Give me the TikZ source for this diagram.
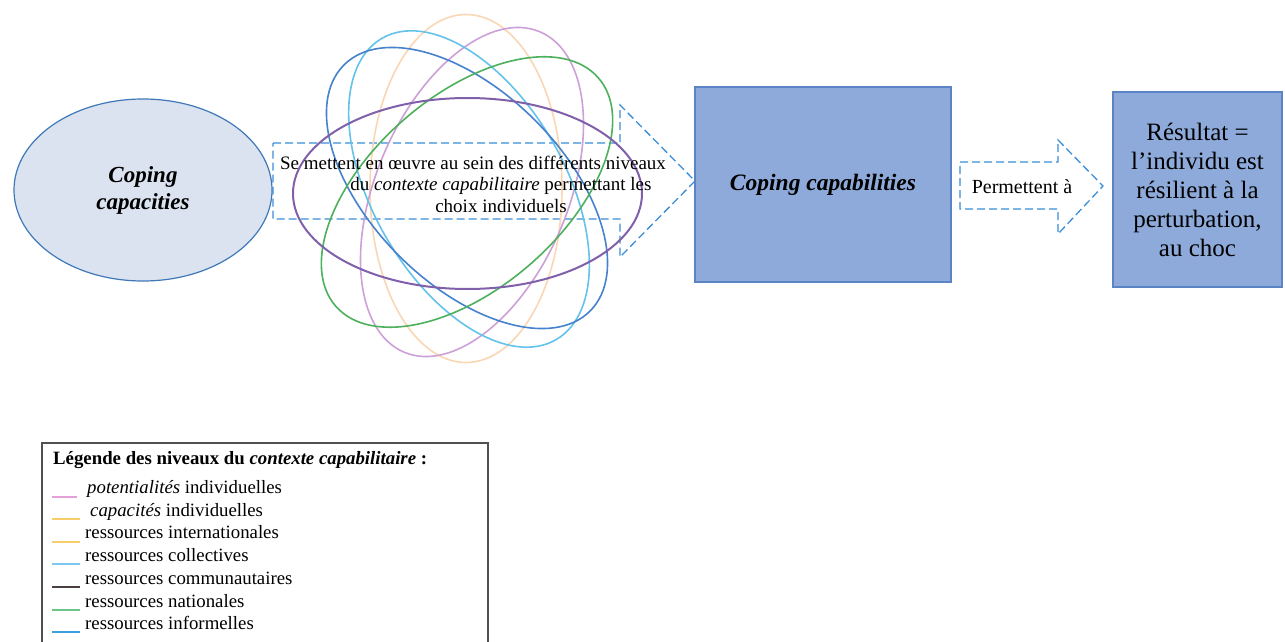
\documentclass[tikz,border=0pt]{standalone}
\usepackage{fontspec}
\setmainfont{Liberation Serif}
\usetikzlibrary{shapes.geometric}
\definecolor{capfill}{HTML}{DBE3F0}
\definecolor{capline}{HTML}{3E78B8}
\definecolor{boxfill}{HTML}{8EAADB}
\definecolor{boxline}{HTML}{5B84C4}
\definecolor{dashblue}{HTML}{3A8ED8}
\definecolor{elpurple}{HTML}{8060AA}
\definecolor{elgreen}{HTML}{4CB05C}
\definecolor{elblue}{HTML}{4682CD}
\definecolor{elcyan}{HTML}{64C3EB}
\definecolor{elpink}{HTML}{CDA0D7}
\definecolor{elorange}{HTML}{FAD7B4}
\definecolor{lgpink}{HTML}{E6A0D8}
\definecolor{lgorange}{HTML}{F6CF6A}
\definecolor{lgcyan}{HTML}{7CC8F0}
\definecolor{lgdark}{HTML}{4A4040}
\definecolor{lggreen}{HTML}{6CC68A}
\definecolor{lgblue}{HTML}{3CA0E0}
\definecolor{lgframe}{HTML}{505050}
\tikzset{
  capell/.style={ellipse, draw=capline, fill=capfill, line width=1.2pt, minimum width=258pt, minimum height=182pt, inner sep=0pt, align=center, font=\fontsize{23}{27}\selectfont\bfseries\itshape},
  bluebox/.style={draw=boxline, fill=boxfill, line width=1.2pt, inner sep=0pt, align=center},
  blockarrow/.style={draw=dashblue, line width=1.3pt, dash pattern=on 8pt off 4pt, line join=miter},
  cloud/.style={line width=1.6pt},
  legline/.style={line width=1.1pt},
  legtext/.style={anchor=base west, inner sep=0pt, font=\fontsize{18.8}{22}\selectfont},
}
\begin{document}
\begin{tikzpicture}[x=1pt,y=-1pt]
\useasboundingbox (0,0) rectangle (1285,642);
\clip (0,0) rectangle (1285,642);
\fill[white] (0,0) rectangle (1285,642);

% Coping capacities
\node[capell] (cap) at (143,190) {Coping\\capacities};

% first block arrow
\coordinate (a1) at (273,143);
\coordinate (a2) at (620,143);
\coordinate (a3) at (620,105);
\coordinate (a4) at (695,181);
\coordinate (a5) at (620,257);
\coordinate (a6) at (620,219);
\coordinate (a7) at (273,219);
\draw[blockarrow] (a1) -- (a2) -- (a3) -- (a4) -- (a5) -- (a6) -- (a7) -- cycle;

% overlapping ellipses
\coordinate (eo) at (466,188.5);
\coordinate (ep) at (472,192);
\coordinate (ecy) at (469,189);
\coordinate (eb) at (467,188);
\coordinate (eg) at (467,192);
\coordinate (eu) at (467.5,193.5);
\draw[cloud, elorange, rotate around={90:(eo)}] (eo) ellipse [x radius=174, y radius=96];
\draw[cloud, elpink, rotate around={67:(ep)}] (ep) ellipse [x radius=174, y radius=96];
\draw[cloud, elcyan, rotate around={-60:(ecy)}] (ecy) ellipse [x radius=174, y radius=96];
\draw[cloud, elblue, rotate around={-45:(eb)}] (eb) ellipse [x radius=174, y radius=96];
\draw[cloud, elgreen, rotate around={41:(eg)}] (eg) ellipse [x radius=174, y radius=96];
\draw[cloud, elpurple, line width=2pt] (eu) ellipse [x radius=174.5, y radius=95.5];

\node[align=center, inner sep=0pt, font=\fontsize{19}{21.5}\selectfont] (t1) at (501,184)
  {Se mettent en œuvre au sein des différents niveaux\hspace*{56pt}\\du \textit{contexte capabilitaire} permettant les\\choix individuels};

% Coping capabilities box
\node[bluebox, minimum width=256pt, minimum height=195pt, font=\fontsize{23.5}{27}\selectfont\bfseries\itshape] (capab) at (823,184.5) {Coping capabilities};

% second block arrow
\coordinate (b1) at (960,162);
\coordinate (b2) at (1058,162);
\coordinate (b3) at (1058,140);
\coordinate (b4) at (1103,186);
\coordinate (b5) at (1058,234);
\coordinate (b6) at (1058,209);
\coordinate (b7) at (960,209);
\draw[blockarrow, fill=white] (b1) -- (b2) -- (b3) -- (b4) -- (b5) -- (b6) -- (b7) -- cycle;
\node[inner sep=0pt, font=\fontsize{20}{22}\selectfont] (perm) at (1022,187) {Permettent à};

% result box
\node[bluebox, minimum width=169pt, minimum height=195pt, font=\fontsize{25}{29}\selectfont] (res) at (1197.5,189.5)
  {Résultat =\\l’individu est\\résilient à la\\perturbation,\\au choc};

% legend
\draw[lgframe, line width=1.5pt] (42,443) rectangle (488,670);
\node[legtext, font=\fontsize{18.8}{22}\selectfont\bfseries] (lt) at (53,464) {Légende des niveaux du \textit{contexte capabilitaire} :};
\draw[legline, lgpink] (52,497) -- (77,497);
\node[legtext] (l1) at (87,493) {\textit{potentialités} individuelles};
\draw[legline, lgorange] (52,519) -- (80,519);
\node[legtext] (l2) at (90,516) {\textit{capacités} individuelles};
\draw[legline, lgorange] (52,542) -- (80,542);
\node[legtext] (l3) at (85,538) {ressources internationales};
\draw[legline, lgcyan] (52,564) -- (80,564);
\node[legtext] (l4) at (85,561) {ressources collectives};
\draw[legline, lgdark] (52,587) -- (80,587);
\node[legtext] (l5) at (85,584) {ressources communautaires};
\draw[legline, lggreen] (52,610) -- (80,610);
\node[legtext] (l6) at (85,607) {ressources nationales};
\draw[legline, lgblue] (52,632) -- (80,632);
\node[legtext] (l7) at (85,629) {ressources informelles};
\end{tikzpicture}
\end{document}
